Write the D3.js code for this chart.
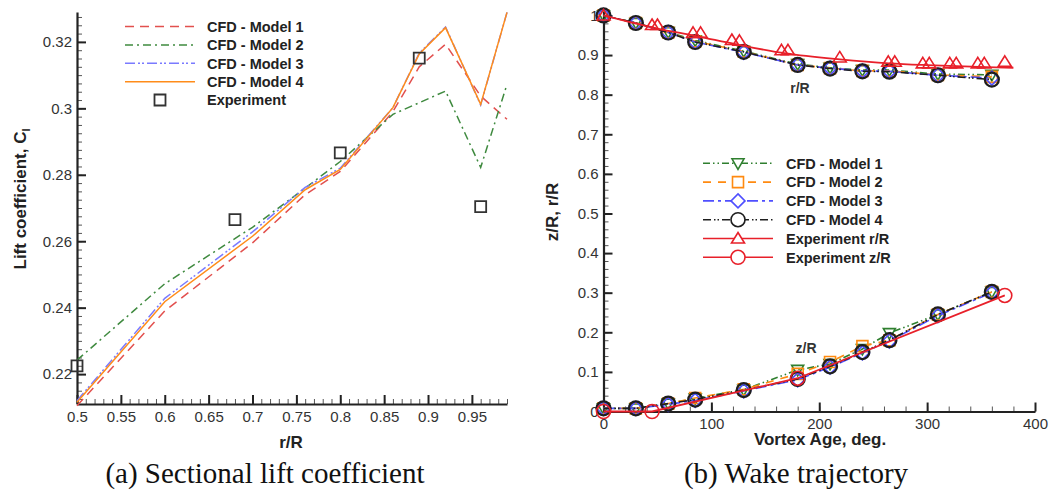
<!DOCTYPE html>
<html>
<head>
<meta charset="utf-8">
<script src="https://cdn.jsdelivr.net/npm/d3@7"></script>
<style>
  body { margin: 0; background: #fff; }
  svg { display: block; font-family: "Liberation Sans", Arial, sans-serif; }
</style>
</head>
<body>
<svg id="chart" width="1056" height="493"></svg>
<script>
// ---- (a) sectional lift coefficient ----
const rR = [0.5, 0.6, 0.7, 0.76, 0.8, 0.86, 0.89, 0.92, 0.96, 0.99];
const clModel1 = [0.2105, 0.2390, 0.2595, 0.2740, 0.2810, 0.2990, 0.3125, 0.3193, 0.3037, 0.2967];
const clModel2 = [0.2242, 0.2472, 0.2642, 0.2760, 0.2840, 0.2982, 0.3017, 0.3052, 0.2822, 0.3072];
const clModel3 = [0.2120, 0.2428, 0.2628, 0.2762, 0.2820, 0.3002, 0.3166, 0.3245, 0.3010, 0.3289];
const clModel4 = [0.2115, 0.2418, 0.2615, 0.2755, 0.2816, 0.3002, 0.3164, 0.3243, 0.3012, 0.3289];
const expR = [0.5, 0.68, 0.8, 0.89, 0.96];
const expCl = [0.2225, 0.2665, 0.2866, 0.3151, 0.2704];
const leftXTicks = [0.5, 0.55, 0.6, 0.65, 0.7, 0.75, 0.8, 0.85, 0.9, 0.95];
const leftYTicks = [0.22, 0.24, 0.26, 0.28, 0.3, 0.32];

// ---- (b) wake trajectory ----
const age = [0, 30, 60, 85, 130, 180, 210, 240, 265, 310, 360];
const rModel1 = [1.0, 0.981, 0.958, 0.937, 0.910, 0.877, 0.868, 0.862, 0.862, 0.852, 0.850];
const rModel2 = [1.0, 0.981, 0.957, 0.935, 0.909, 0.875, 0.867, 0.860, 0.860, 0.850, 0.845];
const rModel3 = [1.0, 0.981, 0.957, 0.933, 0.907, 0.875, 0.867, 0.860, 0.859, 0.849, 0.842];
const rModel4 = [1.0, 0.981, 0.957, 0.933, 0.908, 0.875, 0.866, 0.859, 0.858, 0.849, 0.838];
const zModel1 = [0.008, 0.008, 0.020, 0.033, 0.055, 0.105, 0.120, 0.158, 0.198, 0.245, 0.302];
const zModel2 = [0.008, 0.008, 0.020, 0.034, 0.056, 0.095, 0.125, 0.165, 0.180, 0.245, 0.302];
const zModel3 = [0.008, 0.008, 0.018, 0.028, 0.052, 0.080, 0.112, 0.148, 0.178, 0.242, 0.300];
const zModel4 = [0.008, 0.008, 0.020, 0.030, 0.054, 0.082, 0.114, 0.150, 0.180, 0.245, 0.302];
const expRAge = [0, 45, 50, 83, 90, 119, 126, 165, 171, 219, 264, 270, 296, 302, 321, 327, 347, 353, 372];
const expRVal = [1.0, 0.976, 0.976, 0.956, 0.956, 0.938, 0.936, 0.912, 0.912, 0.894, 0.883, 0.883, 0.879, 0.879, 0.879, 0.879, 0.879, 0.879, 0.883];
const expRFitAge = [0, 50, 86, 123, 169, 219, 265, 300, 348, 380];
const expRFitVal = [1.0, 0.967, 0.948, 0.927, 0.904, 0.889, 0.879, 0.8745, 0.870, 0.868];
const expZAge = [0, 45, 180, 372];
const expZVal = [0, 0, 0.084, 0.293];
const rightXTicks = [0, 100, 200, 300, 400];
const rightYTicks = [0, 0.1, 0.2, 0.3, 0.4, 0.5, 0.6, 0.7, 0.8, 0.9, 1];

const svg = d3.select('#chart');
const fmt = d => String(+d.toFixed(3));
const zip = (xs, ys) => xs.map((x, i) => [x, ys[i]]);
const serif = '"Liberation Serif", "Times New Roman", serif';

// marker shapes centred on 0,0
function marker(type) {
    if (type === 'circle') return 'M7,0A7,7 0 1,1 -7,0A7,7 0 1,1 7,0Z';
    if (type === 'square') return 'M-5.5,-5.5H5.5V5.5H-5.5Z';
    if (type === 'diamond') return 'M0,-7L7,0L0,7L-7,0Z';
    if (type === 'tridown') return 'M0,6L6,-4.5H-6Z';
    if (type === 'triup') return 'M0,-6L6.5,4.5H-6.5Z';
    if (type === 'box') return 'M-5.5,-5.5H5.5V5.5H-5.5Z';
}

function drawAxes(g, x, y, xTicks, xMinor, yTicks, yMinor) {
    g.append('g')
        .attr('transform', `translate(0,${y.range()[0]})`)
        .call(d3.axisBottom(x).tickValues(xMinor).tickSize(-5).tickFormat('').tickSizeOuter(0))
        .call(a => a.selectAll('line').attr('stroke', '#555'))
        .call(a => a.select('.domain').remove());
    g.append('g')
        .attr('transform', `translate(${x.range()[0]},0)`)
        .call(d3.axisLeft(y).tickValues(yMinor).tickSize(-5).tickFormat('').tickSizeOuter(0))
        .call(a => a.selectAll('line').attr('stroke', '#555'))
        .call(a => a.select('.domain').remove());
    g.append('g')
        .attr('transform', `translate(0,${y.range()[0]})`)
        .call(d3.axisBottom(x).tickValues(xTicks).tickSize(-9).tickPadding(7).tickFormat(fmt).tickSizeOuter(0))
        .call(a => a.selectAll('line').attr('stroke', '#222').attr('stroke-width', 2))
        .call(a => a.select('.domain').attr('stroke', '#222').attr('stroke-width', 2.2))
        .call(a => a.selectAll('text').attr('font-size', 15).attr('fill', '#333')
            .attr('font-family', '"Liberation Sans", Arial, sans-serif'));
    g.append('g')
        .attr('transform', `translate(${x.range()[0]},0)`)
        .call(d3.axisLeft(y).tickValues(yTicks).tickSize(-9).tickPadding(5).tickFormat(fmt).tickSizeOuter(0))
        .call(a => a.selectAll('line').attr('stroke', '#222').attr('stroke-width', 2))
        .call(a => a.select('.domain').attr('stroke', '#222').attr('stroke-width', 2.2))
        .call(a => a.selectAll('text').attr('font-size', 15).attr('fill', '#333')
            .attr('font-family', '"Liberation Sans", Arial, sans-serif'));
}

// ================= panel (a) =================
const xA = d3.scaleLinear().domain([0.5, 0.99]).range([77, 507]);
const yA = d3.scaleLinear().domain([0.211, 0.329]).range([404, 12]);
const gA = svg.append('g');

const seriesA = [
    {name: 'CFD - Model 1', vals: clModel1, color: '#e2504e', dash: '9,6'},
    {name: 'CFD - Model 2', vals: clModel2, color: '#3f8a3f', dash: '8,4,2,4'},
    {name: 'CFD - Model 3', vals: clModel3, color: '#7a7aff', dash: '10,3,2,2,2,3'},
    {name: 'CFD - Model 4', vals: clModel4, color: '#ff8c1a', dash: null}
];
const lineA = d3.line().x(d => xA(d[0])).y(d => yA(d[1]));

drawAxes(gA, xA, yA, leftXTicks, d3.range(0.5, 0.995, 0.01), leftYTicks, d3.range(0.2125, 0.329, 0.0025));

seriesA.forEach(s => {
    gA.append('path')
        .datum(zip(rR, s.vals))
        .attr('d', lineA)
        .attr('fill', 'none')
        .attr('stroke', s.color)
        .attr('stroke-width', 1.5)
        .attr('stroke-dasharray', s.dash);
});

gA.selectAll('.exp')
    .data(zip(expR, expCl))
    .enter()
    .append('path')
    .attr('transform', d => `translate(${xA(d[0])},${yA(d[1])})`)
    .attr('d', marker('box'))
    .attr('fill', 'none')
    .attr('stroke', '#333')
    .attr('stroke-width', 1.8);

// legend (a)
const legA = gA.append('g');
seriesA.forEach((s, i) => {
    const yy = 26.5 + i * 18.4;
    legA.append('line').attr('x1', 125).attr('x2', 195).attr('y1', yy).attr('y2', yy)
        .attr('stroke', s.color).attr('stroke-width', 1.5).attr('stroke-dasharray', s.dash);
    legA.append('text').attr('x', 207).attr('y', yy).attr('dy', '0.36em')
        .attr('font-size', 14.5).attr('font-weight', 'bold').attr('fill', '#222').text(s.name);
});
legA.append('path').attr('transform', 'translate(160,100)').attr('d', marker('box'))
    .attr('fill', 'none').attr('stroke', '#333').attr('stroke-width', 1.8);
legA.append('text').attr('x', 207).attr('y', 100).attr('dy', '0.36em')
    .attr('font-size', 14.5).attr('font-weight', 'bold').attr('fill', '#222').text('Experiment');

// titles (a)
gA.append('text').attr('x', 291).attr('y', 448).attr('text-anchor', 'middle')
    .attr('font-size', 17).attr('font-weight', 'bold').attr('fill', '#222').text('r/R');
const yt = gA.append('text').attr('transform', 'translate(26,199) rotate(-90)').attr('text-anchor', 'middle')
    .attr('font-size', 17).attr('font-weight', 'bold').attr('fill', '#222');
yt.append('tspan').text('Lift coefficient, C');
yt.append('tspan').attr('font-size', 11).attr('dy', 4).text('l');

svg.append('text').attr('x', 265).attr('y', 483).attr('text-anchor', 'middle')
    .style('font-family', serif).attr('font-size', 29)
    .attr('fill', '#111').text('(a) Sectional lift coefficient');

// ================= panel (b) =================
const xB = d3.scaleLinear().domain([0, 400]).range([603.5, 1035]);
const yB = d3.scaleLinear().domain([0, 1.01]).range([411.5, 11.5]);
const gB = svg.append('g');

drawAxes(gB, xB, yB, rightXTicks, d3.range(0, 401, 20), rightYTicks, d3.range(0, 1.011, 0.02));

const seriesB = [
    {name: 'CFD - Model 1', r: rModel1, z: zModel1, color: '#2f7f2f', dash: '7,3,1.5,3,1.5,3', mk: 'tridown'},
    {name: 'CFD - Model 2', r: rModel2, z: zModel2, color: '#ff8a10', dash: '8,7', mk: 'square'},
    {name: 'CFD - Model 3', r: rModel3, z: zModel3, color: '#4f4fff', dash: '11,4,3,4', mk: 'diamond'},
    {name: 'CFD - Model 4', r: rModel4, z: zModel4, color: '#1e1e1e', dash: '8,3,1.5,2,1.5,3', mk: 'circle'}
];
const lineB = d3.line().x(d => xB(d[0])).y(d => yB(d[1]));

seriesB.forEach(s => {
    [s.r, s.z].forEach(vals => {
        gB.append('path')
            .datum(zip(age, vals))
            .attr('d', lineB)
            .attr('fill', 'none')
            .attr('stroke', s.color)
            .attr('stroke-width', 1.6)
            .attr('stroke-dasharray', s.dash);
        gB.append('g').selectAll('path')
            .data(zip(age, vals))
            .enter()
            .append('path')
            .attr('transform', d => `translate(${xB(d[0])},${yB(d[1])})`)
            .attr('d', marker(s.mk))
            .attr('fill', 'none')
            .attr('stroke', s.color)
            .attr('stroke-width', s.mk === 'circle' ? 2.2 : 1.6);
    });
});

const red = '#e8202a';
gB.append('path')
    .datum(zip(expRFitAge, expRFitVal))
    .attr('d', d3.line().curve(d3.curveMonotoneX).x(d => xB(d[0])).y(d => yB(d[1])))
    .attr('fill', 'none').attr('stroke', red).attr('stroke-width', 1.8);
gB.append('g').selectAll('path')
    .data(zip(expRAge, expRVal))
    .enter()
    .append('path')
    .attr('transform', d => `translate(${xB(d[0])},${yB(d[1])})`)
    .attr('d', marker('triup'))
    .attr('fill', 'none').attr('stroke', red).attr('stroke-width', 1.6);
gB.append('path')
    .datum(zip(expZAge, expZVal))
    .attr('d', lineB)
    .attr('fill', 'none').attr('stroke', red).attr('stroke-width', 1.8);
gB.append('g').selectAll('path')
    .data(zip(expZAge, expZVal))
    .enter()
    .append('path')
    .attr('transform', d => `translate(${xB(d[0])},${yB(d[1])})`)
    .attr('d', marker('circle'))
    .attr('fill', 'none').attr('stroke', red).attr('stroke-width', 1.6);

// curve labels
gB.append('text').attr('x', 800).attr('y', 88).attr('dy', '0.36em').attr('text-anchor', 'middle')
    .attr('font-size', 14).attr('font-weight', 'bold').attr('fill', '#333').text('r/R');
gB.append('text').attr('x', 806).attr('y', 348).attr('dy', '0.36em').attr('text-anchor', 'middle')
    .attr('font-size', 14).attr('font-weight', 'bold').attr('fill', '#333').text('z/R');

// legend (b)
const legB = gB.append('g');
const legItems = seriesB.map(s => ({name: s.name, color: s.color, dash: s.dash, mk: s.mk}))
    .concat([
        {name: 'Experiment r/R', color: red, dash: null, mk: 'triup'},
        {name: 'Experiment z/R', color: red, dash: null, mk: 'circle'}
    ]);
legItems.forEach((s, i) => {
    const yy = 163.3 + i * 18.8;
    legB.append('line').attr('x1', 703).attr('x2', 773).attr('y1', yy).attr('y2', yy)
        .attr('stroke', s.color).attr('stroke-width', 1.6).attr('stroke-dasharray', s.dash);
    legB.append('path').attr('transform', `translate(738,${yy})`).attr('d', marker(s.mk))
        .attr('fill', '#fff').attr('stroke', s.color).attr('stroke-width', 1.6);
    legB.append('text').attr('x', 786).attr('y', yy).attr('dy', '0.36em')
        .attr('font-size', 14.5).attr('font-weight', 'bold').attr('fill', '#222').text(s.name);
});

// titles (b)
gB.append('text').attr('x', 820).attr('y', 445).attr('text-anchor', 'middle')
    .attr('font-size', 17).attr('font-weight', 'bold').attr('fill', '#222').text('Vortex Age, deg.');
gB.append('text').attr('transform', 'translate(558,212) rotate(-90)').attr('text-anchor', 'middle')
    .attr('font-size', 17).attr('font-weight', 'bold').attr('fill', '#222').text('z/R, r/R');

svg.append('text').attr('x', 796).attr('y', 483).attr('text-anchor', 'middle')
    .style('font-family', serif).attr('font-size', 29)
    .attr('fill', '#111').text('(b) Wake trajectory');
</script>
</body>
</html>
